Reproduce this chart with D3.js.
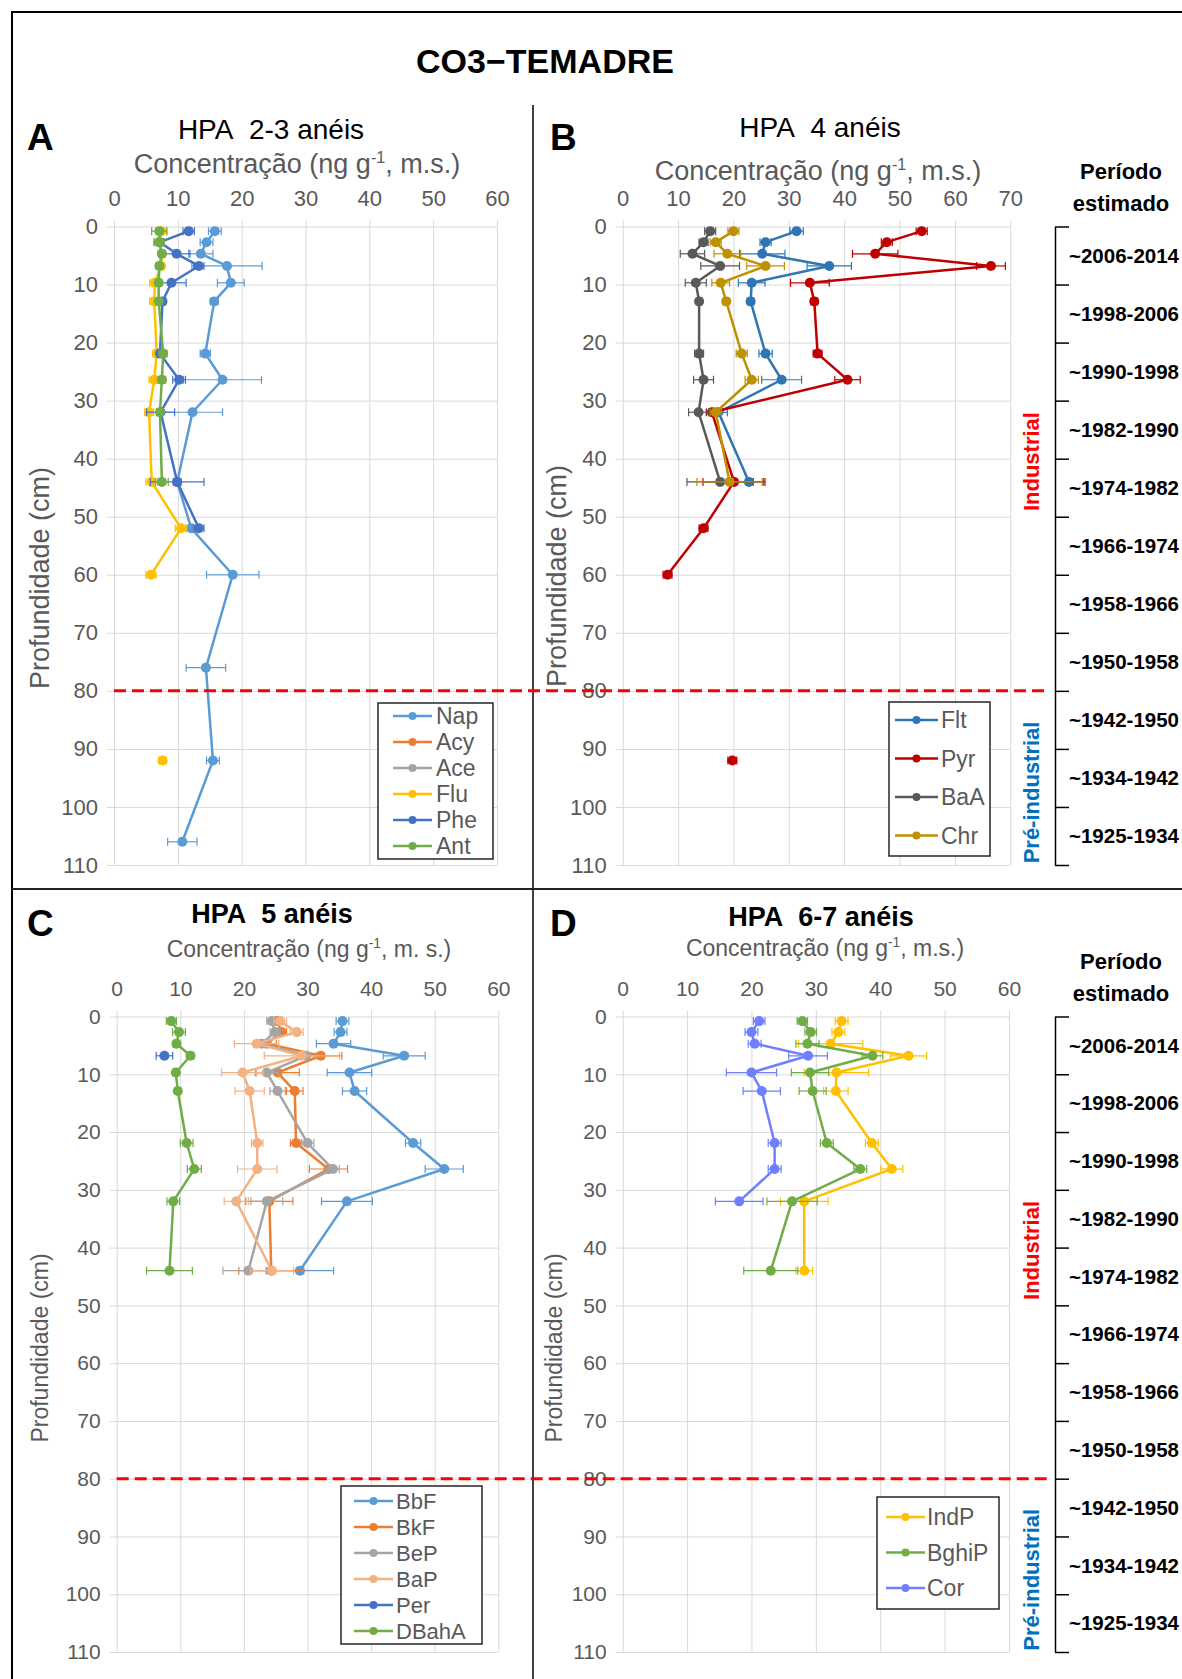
<!DOCTYPE html>
<html><head><meta charset="utf-8">
<script src="https://cdn.jsdelivr.net/npm/d3@7"></script>
<style>body{margin:0;background:#fff}svg{display:block;font-family:"Liberation Sans",Arial,sans-serif}</style>
</head><body><svg id="c" width="1182" height="1679"></svg>
<script>
// ---------- DATA ----------
const depths = [0.8, 2.7, 4.7, 6.8, 9.7, 12.9, 21.9, 26.4, 32, 44, 52, 60, 76, 92, 106];
const depthTicks = [0, 10, 20, 30, 40, 50, 60, 70, 80, 90, 100, 110];
const xTicks60 = [0, 10, 20, 30, 40, 50, 60];
const xTicks70 = [0, 10, 20, 30, 40, 50, 60, 70];
const periods = ["~2006-2014","~1998-2006","~1990-1998","~1982-1990","~1974-1982","~1966-1974","~1958-1966","~1950-1958","~1942-1950","~1934-1942","~1925-1934"];
const boundaryDepth = 80;

// Panel A: HPA 2-3 anéis
const seriesA = ["Nap","Acy","Ace","Flu","Phe","Ant"];
const napVals = [15.8, 14.5, 13.6, 17.7, 18.3, 15.7, 14.3, 17.0, 12.3, 9.9, 12.1, 18.6, 14.4, 15.5, 10.7];
const napErr  = [1.0, 1.0, 1.9, 5.5, 2.1, 0.6, 0.8, 6.1, 4.7, 0.6, 0.8, 4.1, 3.1, 1.0, 2.3];
const acyVals = [];
const acyErr  = [];
const aceVals = [];
const aceErr  = [];
const fluVals = [7.4, 7.0, 7.5, 7.4, 6.4, 6.3, 6.7, 6.3, 5.5, 5.9, 10.5, 5.8, null, 7.6, null];
const fluErr  = [0.8, 0.8, 0.5, 0.5, 0.8, 0.7, 0.6, 0.8, 0.7, 0.9, 0.9, 0.8, null, 0.6, null];
const pheVals = [11.7, 7.2, 9.8, 13.3, 9.0, 7.6, 7.2, 10.2, 7.3, 9.9, 13.3];
const pheErr  = [0.9, 0.5, 2.1, 0.8, 2.3, 0.5, 0.5, 1.0, 2.2, 4.2, 0.8];
const antVals = [7.1, 7.1, 7.5, 7.1, 7.0, 7.0, 7.7, 7.5, 7.2, 7.5];
const antErr  = [1.2, 0.8, 0.5, 0.5, 0.5, 0.5, 0.6, 0.6, 0.5, 1.0];

// Panel B: HPA 4 anéis
const seriesB = ["Flt","Pyr","BaA","Chr"];
const fltVals = [31.4, 25.8, 25.2, 37.3, 23.3, 23.1, 25.8, 28.7, 17.3, 22.8];
const fltErr  = [1.2, 1.0, 4.1, 4.0, 2.4, 0.6, 1.2, 3.6, 1.6, 2.6];
const pyrVals = [54.0, 47.7, 45.6, 66.5, 33.8, 34.6, 35.2, 40.6, 16.1, 20.1, 14.6, 8.1, null, 19.8, null];
const pyrErr  = [1.0, 1.0, 4.1, 2.6, 3.5, 0.6, 0.8, 2.3, 1.0, 5.6, 0.8, 0.8, null, 0.8, null];
const baaVals = [15.8, 14.6, 12.6, 17.6, 13.2, 13.8, 13.8, 14.6, 13.7, 17.6];
const baaErr  = [1.0, 0.8, 2.2, 3.5, 1.9, 0.5, 0.8, 1.8, 1.8, 6.0];
const chrVals = [20.0, 16.8, 18.9, 25.8, 17.7, 18.7, 21.5, 23.3, 16.8, 19.3];
const chrErr  = [1.0, 1.0, 2.4, 3.4, 1.6, 0.6, 1.0, 1.2, 1.0, 5.9];

// Panel C: HPA 5 anéis
const seriesC = ["BbF","BkF","BeP","BaP","Per","DBahA"];
const bbfVals = [35.5, 35.2, 34.1, 45.2, 36.6, 37.4, 46.6, 51.5, 36.2, 28.8];
const bbfErr  = [1.0, 1.0, 2.7, 3.3, 3.5, 1.9, 1.2, 3.0, 4.0, 5.3];
const bkfVals = [25.2, 25.9, 23.6, 32.1, 25.3, 28.0, 28.2, 33.3, 24.0, 24.3];
const bkfErr  = [0.8, 0.8, 1.5, 3.3, 3.4, 1.3, 0.9, 3.0, 3.7, 5.1];
const bepVals = [24.4, 24.9, 22.8, 29.8, 23.6, 25.3, 30.0, 34.0, 23.6, 20.7];
const bepErr  = [0.8, 0.8, 1.0, 1.5, 1.8, 1.2, 1.0, 1.0, 2.5, 4.0];
const bapVals = [25.7, 28.3, 22.0, 29.1, 19.8, 20.9, 22.1, 22.1, 18.8, 24.4];
const bapErr  = [1.0, 1.0, 3.5, 5.9, 3.3, 2.3, 0.9, 3.1, 1.9, 3.4];
const perVals = [null, null, null, 7.5];
const perErr  = [null, null, null, 1.3];
const dbahaVals = [8.6, 9.8, 9.4, 11.6, 9.3, 9.6, 11.0, 12.2, 8.9, 8.3];
const dbahaErr  = [0.8, 1.0, 0.5, 0.5, 0.5, 0.5, 1.0, 1.1, 1.0, 3.6];

// Panel D: HPA 6-7 anéis
const seriesD = ["IndP","BghiP","Cor"];
const indpVals = [34.0, 33.5, 32.3, 44.4, 33.2, 33.1, 38.7, 41.8, 28.2, 28.2];
const indpErr  = [1.0, 1.0, 5.0, 2.8, 5.0, 1.9, 1.0, 1.7, 3.7, 1.3];
const bghipVals = [27.9, 29.2, 28.7, 38.8, 29.1, 29.5, 31.7, 36.9, 26.3, 23.0];
const bghipErr  = [0.8, 0.9, 1.8, 1.6, 2.9, 2.1, 1.0, 1.0, 3.9, 4.2];
const corVals = [21.2, 20.0, 20.5, 28.8, 20.0, 21.6, 23.6, 23.6, 18.1];
const corErr  = [0.9, 1.0, 1.0, 3.0, 3.9, 2.9, 1.0, 1.0, 3.7];

const valueTable = {Nap:[napVals,napErr],Acy:[acyVals,acyErr],Ace:[aceVals,aceErr],Flu:[fluVals,fluErr],Phe:[pheVals,pheErr],Ant:[antVals,antErr],
  Flt:[fltVals,fltErr],Pyr:[pyrVals,pyrErr],BaA:[baaVals,baaErr],Chr:[chrVals,chrErr],
  BbF:[bbfVals,bbfErr],BkF:[bkfVals,bkfErr],BeP:[bepVals,bepErr],BaP:[bapVals,bapErr],Per:[perVals,perErr],DBahA:[dbahaVals,dbahaErr],
  IndP:[indpVals,indpErr],BghiP:[bghipVals,bghipErr],Cor:[corVals,corErr]};

// ---------- STYLE ----------
const colorMap = {Nap:"#5B9BD5",Acy:"#ED7D31",Ace:"#A5A5A5",Flu:"#FFC000",Phe:"#4472C4",Ant:"#70AD47",
  Flt:"#2E75B6",Pyr:"#C00000",BaA:"#595959",Chr:"#BF9000",
  BbF:"#5B9BD5",BkF:"#ED7D31",BeP:"#A5A5A5",BaP:"#F4B183",Per:"#4472C4",DBahA:"#70AD47",
  IndP:"#FFC000",BghiP:"#70AD47",Cor:"#6F7FFF"};
const GRID = "#D9D9D9", TXT = "#595959";

const svg = d3.select("#c");
svg.append("rect").attr("width",1182).attr("height",1679).attr("fill","#fff");

// frame and dividers
svg.append("path").attr("d","M12,1679V12H1182").attr("fill","none").attr("stroke","#000").attr("stroke-width",2);
svg.append("line").attr("x1",533).attr("x2",533).attr("y1",105).attr("y2",1679).attr("stroke","#000").attr("stroke-width",1.5);
svg.append("line").attr("x1",12).attr("x2",1182).attr("y1",889).attr("y2",889).attr("stroke","#222").attr("stroke-width",2);

svg.append("text").attr("x",545).attr("y",73).attr("text-anchor","middle")
  .attr("font-size",34).attr("font-weight","bold").text("CO3\u2212TEMADRE");

const panels = [
  {letter:"A", lx:27, ly:150, title:"HPA\u00a0 2-3 anéis", bold:false, tx:271, ty:139, tsize:28,
   unit:", m.s.)", ax:297, ay:173, asize:27, x0:114, x1:497, xmax:60, xt:xTicks60, y0:226.5, y1:865,
   ylx:40, yly:578, ylsize:27, tickSize:22, series:seriesA,
   leg:{x0:378,y0:703,x1:493,y1:859,first:716,step:26,l0:393,l1:432,tx:436,size:23}},
  {letter:"B", lx:550, ly:150, title:"HPA\u00a0 4 anéis", bold:false, tx:820, ty:137, tsize:28,
   unit:", m.s.)", ax:818, ay:180, asize:27, x0:622.7, x1:1010.3, xmax:70, xt:xTicks70, y0:226.5, y1:865,
   ylx:557, yly:576, ylsize:27, tickSize:22, series:seriesB,
   leg:{x0:889,y0:702,x1:990,y1:856,first:720,step:38.5,l0:895,l1:938,tx:941,size:23}},
  {letter:"C", lx:27, ly:936, title:"HPA\u00a0 5 anéis", bold:true, tx:272, ty:923, tsize:27,
   unit:", m. s.)", ax:309, ay:957, asize:23, x0:116.7, x1:498.3, xmax:60, xt:xTicks60, y0:1016.5, y1:1652,
   ylx:40, yly:1348, ylsize:23, tickSize:21, series:seriesC,
   leg:{x0:341,y0:1486,x1:482,y1:1644,first:1501,step:26,l0:354,l1:393,tx:396,size:22}},
  {letter:"D", lx:550, ly:936, title:"HPA\u00a0 6-7 anéis", bold:true, tx:821, ty:926, tsize:27,
   unit:", m.s.)", ax:825, ay:956, asize:23, x0:622.7, x1:1009, xmax:60, xt:xTicks60, y0:1016.5, y1:1652,
   ylx:554, yly:1348, ylsize:23, tickSize:21, series:seriesD,
   leg:{x0:877,y0:1497,x1:999,y1:1609,first:1517,step:35.5,l0:886,l1:925,tx:927,size:23}}
];

const yScales = [];
panels.forEach(p => {
  const g = svg.append("g");
  const x = d3.scaleLinear().domain([0,p.xmax]).range([p.x0,p.x1]);
  const y = d3.scaleLinear().domain([0,110]).range([p.y0,p.y1]);
  yScales.push(y);

  g.append("text").attr("x",p.lx).attr("y",p.ly).attr("font-size",37).attr("font-weight","bold").text(p.letter);
  g.append("text").attr("x",p.tx).attr("y",p.ty).attr("text-anchor","middle").attr("font-size",p.tsize)
    .attr("font-weight",p.bold?"bold":"normal").text(p.title);
  const at = g.append("text").attr("x",p.ax).attr("y",p.ay).attr("text-anchor","middle")
    .attr("font-size",p.asize).attr("fill",TXT);
  at.append("tspan").text("Concentração (ng g");
  at.append("tspan").attr("font-size",p.asize*0.6).attr("dy",-p.asize*0.38).text("-1");
  at.append("tspan").attr("dy",p.asize*0.38).text(p.unit);

  // x axis (top) with vertical gridlines
  const xa = g.append("g").attr("transform",`translate(0,${p.y0-6})`)
    .call(d3.axisTop(x).tickValues(p.xt).tickSize(-(p.y1-p.y0+6)).tickSizeOuter(0).tickPadding(15));
  xa.select(".domain").remove();
  xa.selectAll("line").attr("stroke",GRID);
  xa.selectAll("text").attr("font-size",p.tickSize).attr("fill",TXT).attr("font-family","Liberation Sans, Arial, sans-serif");

  // y axis (left) with horizontal gridlines
  const ya = g.append("g").attr("transform",`translate(${p.x0-7},0)`)
    .call(d3.axisLeft(y).tickValues(depthTicks).tickSize(-(p.x1-p.x0+7)).tickSizeOuter(0).tickPadding(9));
  ya.select(".domain").remove();
  ya.selectAll("line").attr("stroke",GRID);
  ya.selectAll("text").attr("font-size",p.tickSize).attr("fill",TXT).attr("font-family","Liberation Sans, Arial, sans-serif");

  g.append("text").attr("transform",`translate(${p.ylx},${p.yly}) rotate(-90)`).attr("text-anchor","middle")
    .attr("dominant-baseline","central").attr("font-size",p.ylsize).attr("fill",TXT).text("Profundidade (cm)");

  // series
  p.series.forEach(name => {
    const [vals, errs] = valueTable[name];
    const col = colorMap[name];
    const pts = depths.map((d,i) => ({d, v: (vals[i]==null?null:vals[i]), e: (errs[i]==null?0:errs[i])}));
    const valid = pts.filter(q => q.v != null);
    const sg = g.append("g");
    const line = d3.line().defined(q => q.v != null).x(q => x(q.v)).y(q => y(q.d));
    sg.append("path").attr("d",line(pts)).attr("fill","none").attr("stroke",col).attr("stroke-width",2.5).attr("stroke-linejoin","round");
    valid.forEach(q => {
      if (q.e > 0) {
        const xl = x(q.v - q.e), xr = x(q.v + q.e), yy = y(q.d);
        sg.append("line").attr("x1",xl).attr("x2",xr).attr("y1",yy).attr("y2",yy).attr("stroke",col).attr("stroke-width",1.2);
        sg.append("line").attr("x1",xl).attr("x2",xl).attr("y1",yy-4).attr("y2",yy+4).attr("stroke",col).attr("stroke-width",1.2);
        sg.append("line").attr("x1",xr).attr("x2",xr).attr("y1",yy-4).attr("y2",yy+4).attr("stroke",col).attr("stroke-width",1.2);
      }
    });
    sg.selectAll("circle").data(valid).join("circle").attr("cx",q => x(q.v)).attr("cy",q => y(q.d)).attr("r",5).attr("fill",col);
  });

  // legend
  const L = p.leg;
  const lg = g.append("g");
  lg.append("rect").attr("x",L.x0).attr("y",L.y0).attr("width",L.x1-L.x0).attr("height",L.y1-L.y0)
    .attr("fill","#fff").attr("stroke","#262626").attr("stroke-width",1.5);
  p.series.forEach((name,i) => {
    const cy = L.first + i*L.step;
    lg.append("line").attr("x1",L.l0).attr("x2",L.l1).attr("y1",cy).attr("y2",cy).attr("stroke",colorMap[name]).attr("stroke-width",2.5);
    lg.append("circle").attr("cx",(L.l0+L.l1)/2).attr("cy",cy).attr("r",4).attr("fill",colorMap[name]);
    lg.append("text").attr("x",L.tx).attr("y",cy).attr("dy","0.35em").attr("font-size",L.size).attr("fill",TXT).text(name);
  });
});

// boundary dashed lines
[[0,114],[2,116.7]].forEach(([pi,xs]) => {
  const yy = yScales[pi](boundaryDepth);
  svg.append("line").attr("x1",xs).attr("x2",1050).attr("y1",yy).attr("y2",yy)
    .attr("stroke","#FF0000").attr("stroke-width",3).attr("stroke-dasharray","12,6");
});

// timelines
[0,2].forEach(pi => {
  const y = yScales[pi];
  const tg = svg.append("g").attr("transform","translate(1055,0)")
    .call(d3.axisRight(y).tickValues(depthTicks).tickSize(14).tickSizeOuter(0).tickFormat(""));
  tg.select(".domain").attr("stroke","#000").attr("stroke-width",1.5);
  tg.selectAll("line").attr("stroke","#000").attr("stroke-width",1.5);
  periods.forEach((lab,i) => {
    svg.append("text").attr("x",1124).attr("y",y(depthTicks[i]+5)).attr("dy","0.35em").attr("text-anchor","middle")
      .attr("font-size",20.5).attr("font-weight","bold").text(lab);
  });
  const top = y(0);
  svg.append("text").attr("x",1121).attr("y",top-48).attr("text-anchor","middle").attr("font-size",22).attr("font-weight","bold").text("Período");
  svg.append("text").attr("x",1121).attr("y",top-16).attr("text-anchor","middle").attr("font-size",22).attr("font-weight","bold").text("estimado");
  svg.append("text").attr("transform",`translate(1031,${y(40.5)}) rotate(-90)`).attr("text-anchor","middle").attr("dominant-baseline","central")
    .attr("font-size",22).attr("font-weight","bold").attr("fill","#FF0000").text("Industrial");
  svg.append("text").attr("transform",`translate(1031,${y(97.5)}) rotate(-90)`).attr("text-anchor","middle").attr("dominant-baseline","central")
    .attr("font-size",22).attr("font-weight","bold").attr("fill","#0070C0").text("Pré-industrial");
});
</script></body></html>
